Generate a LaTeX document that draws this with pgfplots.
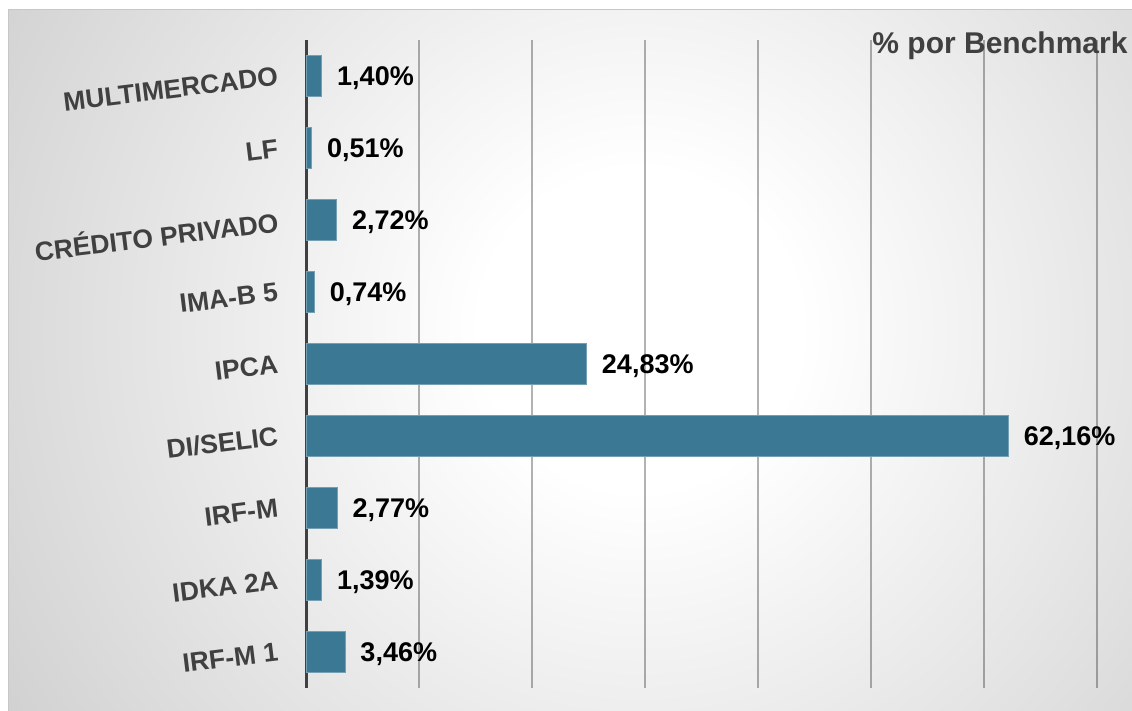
\documentclass[border=0pt]{standalone}
\usepackage{pgfplots}
\pgfplotsset{compat=1.18}
\usepackage{pgfplotstable}
\usepackage{fontspec}
\setmainfont{Liberation Sans}
\definecolor{barblue}{RGB}{58,120,148}
\definecolor{labgray}{RGB}{64,64,64}
\pgfdeclareradialshading{bgshade}{\pgfpoint{0bp}{0bp}}{color(0bp)=(white); color(4bp)=(white); color(25bp)=(black!26); color(50bp)=(black!26)}
\pgfplotstableread{
y v
0 3.46
1 1.39
2 2.77
3 62.16
4 24.83
5 0.74
6 2.72
7 0.51
8 1.40
}\datatable
\begin{document}
\begin{tikzpicture}
\begin{scope}
\clip (8pt,0pt) rectangle (1132pt,701pt);
\shade[shading=bgshade] (-360pt,-619pt) rectangle (1640pt,1381pt);
\end{scope}
\draw[black!22, line width=1pt] (8pt,0pt) -- (8pt,701pt) -- (1132pt,701pt);
\begin{axis}[
  at={(306pt,23pt)}, anchor=south west,
  scale only axis, width=791pt, height=648pt,
  xbar, bar width=0.58,
  xmin=0, xmax=70, ymin=-0.5, ymax=8.5,
  axis y line*=left, axis x line*=bottom,
  x axis line style={draw=none},
  y axis line style={-, draw=labgray, line width=3pt},
  xtick={10,20,...,70}, xticklabels={},
  xmajorgrids, major grid style={black, opacity=0.3, line width=1.5pt},
  ytick={0,...,8},
  yticklabels={IRF-M 1, IDKA 2A, IRF-M, DI/SELIC, IPCA, IMA-B 5, CRÉDITO PRIVADO, LF, MULTIMERCADO},
  major tick length=0pt,
  yticklabel style={font=\fontsize{26.5}{30}\selectfont\bfseries, text=labgray, inner sep=0pt, anchor=east, xshift=-28pt, rotate=7},
  point meta=x,
  nodes near coords={\pgfmathprintnumber[fixed, fixed zerofill, precision=2, use comma, assume math mode=true]{\pgfplotspointmeta}\%},
  every node near coord/.append style={font=\fontsize{27}{30}\selectfont\bfseries, text=black, anchor=base west, inner sep=0pt, xshift=15pt, yshift=-9.5pt},
  clip=false,
]
\addplot[fill=barblue, draw=barblue!70!white, line width=0.8pt] table[x=v, y=y] {\datatable};
\end{axis}
\node[font=\fontsize{30}{32}\selectfont\bfseries, text=labgray] at (1000pt,665pt) {\% por Benchmark};
\pgfresetboundingbox
\path[use as bounding box] (0pt,0pt) rectangle (1132pt,711pt);
\end{tikzpicture}
\end{document}
